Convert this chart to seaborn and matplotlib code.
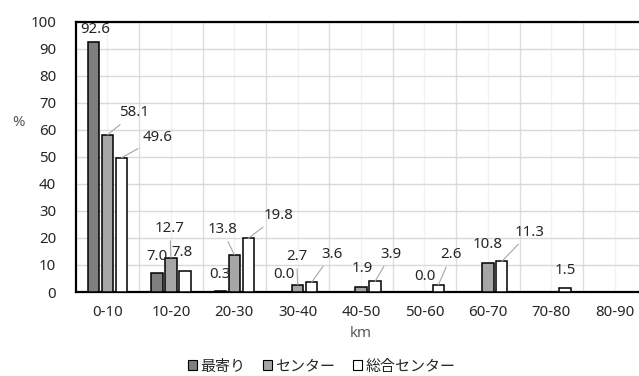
import numpy as np
import pandas as pd
import matplotlib
matplotlib.use("Agg")
import matplotlib.pyplot as plt
import seaborn as sns

# data
categories = ["0-10", "10-20", "20-30", "30-40", "40-50", "50-60", "60-70", "70-80", "80-90"]
series = ["最寄り", "センター", "総合センター"]
nearest = [92.6, 7.0, 0.3, 0.0, np.nan, np.nan, np.nan, np.nan, np.nan]
center = [58.1, 12.7, 13.8, 2.7, 1.9, 0.0, 10.8, np.nan, np.nan]
general = [49.6, 7.8, 19.8, 3.6, 3.9, 2.6, 11.3, 1.5, np.nan]

colors = {"最寄り": "#7f7f7f", "センター": "#a6a6a6", "総合センター": "#ffffff"}

# label offsets in pixels (dx, dy) from bar top, keyed by (series, category index)
label_offsets = {
    ("最寄り", 0): (2, 12), ("センター", 0): (27, 22), ("総合センター", 0): (36, 20),
    ("最寄り", 1): (0, 17), ("センター", 1): (-1, 29), ("総合センター", 1): (-3, 18),
    ("最寄り", 2): (0, 17), ("センター", 2): (-12, 25), ("総合センター", 2): (30, 23),
    ("最寄り", 3): (0, 17), ("センター", 3): (-1, 28), ("総合センター", 3): (20, 28),
    ("センター", 4): (1, 18), ("総合センター", 4): (16, 27),
    ("センター", 5): (0, 16), ("総合センター", 5): (13, 30),
    ("センター", 6): (0, 18), ("総合センター", 6): (28, 29),
    ("総合センター", 7): (0, 17),
}

df = pd.DataFrame({
    "km": categories * 3,
    "series": [s for s in series for _ in categories],
    "value": nearest + center + general,
}).dropna()

sns.set_theme(style="white")
plt.rcParams["font.family"] = ["Noto Sans", "Noto Sans CJK JP", "DejaVu Sans"]

fig = plt.figure(figsize=(6.39, 3.76), dpi=100)
ax = fig.add_axes([75.8 / 639, 84 / 376, 570.5 / 639, 270.5 / 376])

sns.barplot(data=df, x="km", y="value", hue="series", order=categories,
            hue_order=series, palette=colors, width=0.66, gap=0.18,
            edgecolor="black", linewidth=1.1, ax=ax, legend=False, zorder=3)

ax.set_xlim(-0.5, len(categories) - 0.5)
ax.set_ylim(0, 100)
ax.set_yticks(range(0, 101, 10))
ax.set_xticks(np.arange(len(categories)) + 0.5, minor=True)

# gridlines: very light at centers, a bit darker at category boundaries
ax.grid(axis="y", which="major", color="#d9d9d9", lw=1.0, zorder=0)
ax.grid(axis="x", which="minor", color="#dedede", lw=1.0, zorder=0)
ax.grid(axis="x", which="major", color="#f2f2f2", lw=1.0, zorder=0)
ax.set_axisbelow(True)

for side in ["left", "bottom", "top"]:
    ax.spines[side].set_color("black")
    ax.spines[side].set_linewidth(1.6)
ax.spines["right"].set_visible(False)

fs = 10.8
ax.tick_params(which="both", length=0, labelsize=fs, colors="#262626")
ax.tick_params(axis="x", pad=9)
ax.tick_params(axis="y", pad=14)

ax.set_xlabel("km", fontsize=fs, color="#595959", labelpad=5)
ax.set_ylabel("%", fontsize=fs, color="#595959", rotation=0)
ax.yaxis.set_label_coords(-0.10, 0.60)

# data labels, some with leader lines
for name, cont in zip(series, ax.containers):
    for bar in cont:
        xc = bar.get_x() + bar.get_width() / 2
        h = bar.get_height()
        idx = int(round(xc))
        dx, dy = label_offsets.get((name, idx), (0, 17))
        line = dict(arrowstyle="-", color="#a6a6a6", lw=0.8, shrinkA=1, shrinkB=0) if dy > 19 else None
        ax.annotate(f"{h:.1f}", xy=(xc, h), xytext=(dx, dy), textcoords="offset pixels",
                    ha="center", va="center", fontsize=fs, color="#262626",
                    arrowprops=line, annotation_clip=False, zorder=5)

handles = [plt.Rectangle((0, 0), 1, 1, facecolor=colors[s], edgecolor="black", lw=0.8) for s in series]
fig.legend(handles, series, loc="center", bbox_to_anchor=(322 / 639, 9 / 376), ncol=3,
           frameon=False, fontsize=fs, handlelength=0.6, handleheight=0.6,
           handletextpad=0.2, columnspacing=1.2, labelcolor="#262626")

fig.savefig("out.png", dpi=100)
